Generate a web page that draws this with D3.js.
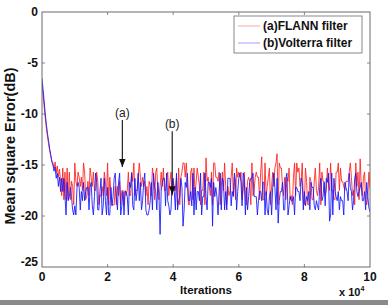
<!DOCTYPE html>
<html>
<head>
<meta charset="utf-8">
<script src="https://cdn.jsdelivr.net/npm/d3@7"></script>
<style>
  html, body { margin: 0; padding: 0; background: #fff; }
  svg { display: block; font-family: "Liberation Sans", Arial, sans-serif; }
</style>
</head>
<body>
<svg id="chart" width="388" height="305"></svg>
<script>
// ─── data (iterations in units of 1e4, MSE in dB) ─────────────────────────────
const STEP = 10 / 300;   // x spacing between samples (x 10^4 iterations)

const flannMse = [
  -7.0, -8.1, -9.3, -10.4, -11.4, -12.2, -12.9, -13.6, -14.1, -14.6,
  -14.8, -15.3, -14.7, -15.8, -15.1, -16.2, -15.4, -16.6,
  -18.0, -15.3, -18.4, -15.7, -18.4, -15.3, -18.4, -15.7, -18.4, -16.6,
  -17.1, -18.9, -14.8, -16.6, -17.1, -15.7, -16.2, -17.1, -16.2, -17.5,
  -14.8, -15.7, -18.4, -18.0, -16.6, -18.0, -15.3, -16.2, -17.1, -15.7,
  -17.5, -17.5, -15.7, -16.6, -18.9, -18.0, -18.0, -17.1, -18.0, -15.7,
  -16.6, -18.0, -14.8, -18.9, -16.2, -17.5, -18.9, -18.9, -18.9, -17.1,
  -18.9, -17.1, -18.0, -16.6, -18.9, -17.5, -17.5, -18.9, -17.5, -18.0,
  -17.5, -15.7, -18.0, -18.0, -15.7, -16.6, -14.8, -18.0, -17.5, -17.5,
  -16.2, -14.8, -16.2, -17.1, -16.2, -17.1, -16.6, -18.0, -17.1, -18.9,
  -16.6, -17.1, -18.0, -15.3, -16.2, -18.4, -15.7, -15.3, -18.0, -18.4,
  -17.1, -15.7, -17.1, -15.3, -17.5, -17.5, -16.6, -15.7, -18.0, -16.6,
  -15.7, -18.0, -16.6, -17.5, -17.5, -16.2, -18.9, -15.3, -18.9, -16.2,
  -15.7, -14.8, -14.8, -16.2, -14.8, -17.1, -18.9, -18.9, -15.7, -15.3,
  -18.4, -15.3, -18.0, -16.6, -15.3, -16.2, -17.1, -18.9, -17.5, -17.5,
  -15.7, -18.9, -14.3, -16.6, -16.2, -17.1, -18.0, -15.7, -18.9, -14.8,
  -14.8, -16.2, -16.2, -16.6, -15.7, -18.9, -17.1, -15.7, -17.5, -14.8,
  -17.1, -18.9, -17.1, -18.0, -17.5, -16.2, -14.8, -18.0, -16.2, -18.4,
  -15.3, -16.2, -15.7, -16.2, -15.7, -18.4, -17.5, -15.7, -18.0, -18.9,
  -16.6, -16.2, -16.6, -18.9, -14.8, -18.0, -17.5, -16.2, -15.7, -16.2,
  -16.2, -18.4, -15.7, -14.2, -18.4, -18.4, -14.8, -18.0, -17.1, -16.2,
  -15.3, -18.9, -17.1, -15.7, -17.1, -15.3, -14.8, -13.9, -18.9, -14.8,
  -15.3, -15.3, -17.1, -18.0, -16.2, -18.4, -16.2, -16.6, -15.3, -18.4,
  -18.0, -18.9, -16.2, -14.8, -18.0, -14.8, -15.7, -15.3, -17.1, -16.6,
  -14.8, -18.4, -18.9, -15.3, -16.6, -18.9, -18.9, -16.2, -16.6, -18.4,
  -18.4, -16.6, -15.3, -17.5, -18.0, -17.1, -14.8, -18.9, -15.7, -16.6,
  -16.6, -18.0, -17.5, -15.3, -16.6, -17.5, -14.8, -17.5, -17.5, -18.4,
  -18.4, -15.7, -15.7, -14.8, -17.5, -15.3, -16.6, -16.6, -17.1, -17.5,
  -16.6, -16.6, -16.6, -15.7, -14.8, -16.2, -18.0, -17.5, -18.9, -14.8,
  -17.1, -15.7, -18.4, -14.4, -17.1, -18.0, -16.2, -15.7, -18.4, -18.9,
  -18.0, -15.7, -17.3
];

const volterraMse = [
  -6.5, -7.6, -8.8, -10.0, -11.0, -11.9, -12.6, -13.4, -14.0, -14.7,
  -15.0, -15.6, -15.2, -16.3, -15.8, -17.1, -16.2, -17.6,
  -16.3, -17.6, -16.3, -18.1, -19.9, -16.7, -18.5, -18.1, -17.2, -18.1,
  -19.4, -19.9, -19.0, -19.9, -17.2, -16.7, -17.2, -19.4, -17.6, -18.5,
  -16.7, -18.5, -17.6, -17.2, -17.2, -19.4, -17.2, -16.7, -19.0, -19.9,
  -18.1, -15.8, -16.7, -19.4, -19.4, -17.6, -16.3, -19.9, -19.0, -16.3,
  -18.5, -19.9, -17.2, -19.9, -19.9, -17.2, -19.0, -18.1, -16.3, -15.8,
  -18.1, -19.4, -16.7, -15.8, -19.9, -19.0, -17.6, -19.9, -17.6, -17.6,
  -18.1, -19.9, -16.7, -17.2, -15.8, -19.0, -19.4, -16.3, -18.5, -17.6,
  -15.8, -18.5, -16.7, -19.4, -18.5, -16.7, -15.8, -19.4, -19.9, -19.9,
  -19.4, -18.5, -16.7, -19.4, -15.8, -17.2, -17.6, -19.4, -16.7, -18.1,
  -21.8, -17.6, -16.7, -16.3, -16.3, -19.0, -15.8, -18.5, -19.0, -19.9,
  -19.4, -16.7, -16.3, -17.6, -19.4, -15.8, -19.4, -18.5, -18.1, -16.3,
  -17.2, -21.0, -19.4, -16.7, -17.2, -15.8, -18.5, -18.5, -17.6, -19.0,
  -15.8, -19.9, -17.2, -19.4, -17.6, -17.6, -18.5, -15.8, -19.9, -18.1,
  -18.1, -15.8, -18.1, -19.4, -16.7, -16.7, -17.2, -16.3, -21.0, -16.7,
  -18.1, -17.2, -18.1, -19.9, -17.6, -15.8, -19.4, -16.3, -16.7, -19.4,
  -17.6, -19.4, -16.3, -16.3, -16.3, -19.0, -17.6, -18.1, -15.8, -16.7,
  -19.4, -17.6, -16.3, -15.8, -16.7, -19.0, -15.8, -16.3, -19.9, -17.2,
  -19.4, -18.1, -16.7, -16.3, -16.3, -15.8, -18.1, -18.1, -18.1, -19.9,
  -18.5, -17.6, -17.6, -18.5, -16.7, -16.7, -19.9, -17.6, -19.4, -19.9,
  -18.1, -17.6, -19.9, -17.2, -15.8, -17.2, -19.4, -16.3, -20.7, -18.5,
  -17.6, -17.6, -16.7, -19.4, -19.4, -16.3, -15.8, -19.9, -19.0, -18.1,
  -18.5, -18.5, -18.1, -19.9, -17.2, -17.2, -17.6, -17.6, -18.5, -16.3,
  -16.7, -19.4, -17.6, -19.0, -18.1, -18.5, -17.6, -19.4, -16.7, -17.2,
  -17.2, -19.0, -19.4, -18.5, -19.0, -19.4, -17.2, -16.3, -18.5, -18.1,
  -16.7, -19.0, -16.3, -16.7, -15.8, -20.5, -19.9, -15.8, -19.9, -16.3,
  -17.6, -18.1, -18.5, -17.6, -19.4, -18.1, -18.5, -18.5, -19.9, -16.7,
  -17.2, -17.6, -18.5, -15.8, -17.2, -17.6, -19.4, -18.5, -16.3, -15.8,
  -17.6, -18.1, -17.6, -17.2, -16.7, -18.5, -18.5, -17.6, -19.4, -16.7,
  -18.1, -19.2, -19.6
];

const xTicks = [0, 2, 4, 6, 8, 10];
const yTicks = [0, -5, -10, -15, -20, -25];

const seriesNames  = ['(a)FLANN filter', '(b)Volterra filter'];
const seriesColors = ['#ff2020', '#1414ff'];

// annotation: label, x, text y, arrow-tip y
const noteLabels = ['(a)', '(b)'];
const noteX      = [2.45, 3.97];
const noteTextY  = [-10.3, -11.4];
const noteTipY   = [-15.2, -17.9];

// ─── layout ───────────────────────────────────────────────────────────────────
const svg = d3.select('#chart');
const W = 388, H = 305;
const m = { left: 42, right: 18, top: 12, bottom: 38 };
const pw = W - m.left - m.right, ph = H - m.top - m.bottom;

const x = d3.scaleLinear().domain([0, 10]).range([m.left, m.left + pw]);
const y = d3.scaleLinear().domain([-25, 0]).range([m.top + ph, m.top]);

svg.append('rect').attr('width', W).attr('height', H).attr('fill', '#fff');

const defs = svg.append('defs');
defs.append('clipPath').attr('id', 'plotclip')
  .append('rect').attr('x', m.left).attr('y', m.top).attr('width', pw).attr('height', ph);
defs.append('marker').attr('id', 'arr').attr('viewBox', '0 0 10 10')
  .attr('refX', 10).attr('refY', 5).attr('markerWidth', 7).attr('markerHeight', 7)
  .attr('orient', 'auto')
  .append('path').attr('d', 'M0,1 L10,5 L0,9 Z').attr('fill', '#111');

// ─── series ───────────────────────────────────────────────────────────────────
const line = d3.line().x((d, i) => x(i * STEP)).y(d => y(d));
const plot = svg.append('g').attr('clip-path', 'url(#plotclip)');
[flannMse, volterraMse].forEach((vals, k) => {
  plot.append('path').datum(vals)
    .attr('d', line)
    .attr('fill', 'none')
    .attr('stroke', seriesColors[k])
    .attr('stroke-width', 1)
    .attr('stroke-opacity', 0.85);
});

// ─── frame + ticks (MATLAB box style, ticks inward) ───────────────────────────
const frameCol = '#6a6a6a';
svg.append('rect').attr('x', m.left).attr('y', m.top).attr('width', pw).attr('height', ph)
  .attr('fill', 'none').attr('stroke', frameCol).attr('stroke-width', 1);

const tk = 3;
const ticks = svg.append('g').attr('stroke', frameCol).attr('stroke-width', 0.8);
xTicks.slice(1, -1).forEach(v => {
  ticks.append('line').attr('x1', x(v)).attr('x2', x(v)).attr('y1', m.top + ph).attr('y2', m.top + ph - tk);
  ticks.append('line').attr('x1', x(v)).attr('x2', x(v)).attr('y1', m.top).attr('y2', m.top + tk);
});
yTicks.slice(1, -1).forEach(v => {
  ticks.append('line').attr('x1', m.left).attr('x2', m.left + tk).attr('y1', y(v)).attr('y2', y(v));
  ticks.append('line').attr('x1', m.left + pw).attr('x2', m.left + pw - tk).attr('y1', y(v)).attr('y2', y(v));
});

const lbl = svg.append('g').attr('font-weight', 'bold').attr('font-size', 12).attr('fill', '#111');
xTicks.forEach(v => {
  lbl.append('text').attr('x', x(v)).attr('y', m.top + ph + 14)
    .attr('text-anchor', 'middle').text(v);
});
yTicks.forEach(v => {
  lbl.append('text').attr('x', m.left - 4).attr('y', y(v) + (v === -25 ? -1 : 4))
    .attr('text-anchor', 'end').text(v);
});

// axis titles
lbl.append('text').attr('x', x(5)).attr('y', m.top + ph + 27)
  .attr('text-anchor', 'middle').attr('font-size', 11.5).text('Iterations');
lbl.append('text').attr('transform', `translate(15,146) rotate(-90)`)
  .attr('text-anchor', 'middle').attr('font-size', 14.5).text('Mean square Error(dB)');
const ex = lbl.append('text').attr('x', 339).attr('y', 296)
  .attr('text-anchor', 'start').attr('font-size', 11);
ex.append('tspan').text('x 10');
ex.append('tspan').attr('dy', -5).attr('font-size', 7).text('4');

// ─── annotations ──────────────────────────────────────────────────────────────
noteLabels.forEach((t, i) => {
  svg.append('text').attr('x', x(noteX[i])).attr('y', y(noteTextY[i]))
    .attr('text-anchor', 'middle').attr('font-size', 12).attr('fill', '#222').text(t);
  svg.append('line')
    .attr('x1', x(noteX[i])).attr('x2', x(noteX[i]))
    .attr('y1', y(noteTextY[i]) + 3).attr('y2', y(noteTipY[i]))
    .attr('stroke', '#222').attr('stroke-width', 1.2)
    .attr('marker-end', 'url(#arr)');
});

// ─── legend ───────────────────────────────────────────────────────────────────
const lg = svg.append('g');
lg.append('rect').attr('x', 234).attr('y', 16).attr('width', 128).attr('height', 37)
  .attr('fill', '#fff').attr('stroke', frameCol).attr('stroke-width', 0.8);
seriesNames.forEach((n, i) => {
  const ly = 26 + i * 17;
  lg.append('line').attr('x1', 238).attr('x2', 260).attr('y1', ly).attr('y2', ly)
    .attr('stroke', seriesColors[i]).attr('stroke-width', 0.8).attr('stroke-opacity', 0.5);
  lg.append('text').attr('x', 263).attr('y', ly + 4)
    .attr('font-size', 12).attr('font-weight', 'bold').attr('fill', '#111').text(n);
});

// bottom border strip of the scanned figure
svg.append('rect').attr('x', 0).attr('y', 300).attr('width', W).attr('height', 5).attr('fill', '#8a8a8a');
</script>
</body>
</html>
